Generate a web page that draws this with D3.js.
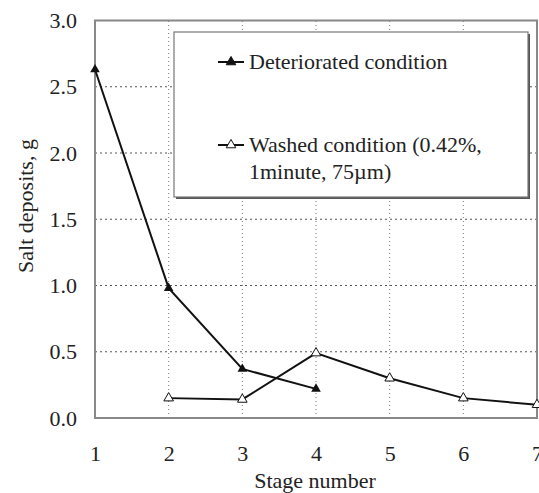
<!DOCTYPE html>
<html><head><meta charset="utf-8">
<script src="https://cdn.jsdelivr.net/npm/d3@7"></script>
<style>body{margin:0;background:#fff}svg{display:block}</style>
</head><body>
<script>
const stages = [1,2,3,4,5,6,7];
const yTicks = [0,0.5,1.0,1.5,2.0,2.5,3.0];
const detStages = [1,2,3,4];
const detValues = [2.63,0.98,0.37,0.22];
const washStages = [2,3,4,5,6,7];
const washValues = [0.15,0.14,0.49,0.30,0.15,0.10];
const seriesNames = ["Deteriorated condition","Washed condition (0.42%,","1minute, 75\u00b5m)"];

const FONT='"Liberation Serif"';
const FS="22px";
const W=539,H=493;
const svg=d3.select("body").append("svg").attr("width",W).attr("height",H);
const x=d3.scaleLinear().domain([1,7]).range([95,537]);
const y=d3.scaleLinear().domain([0,3]).range([418,20.5]);

// grid
svg.append("g").selectAll("line").data(yTicks.filter(d=>d>0&&d<3)).join("line")
 .attr("x1",x(1)).attr("x2",x(7)).attr("y1",d=>y(d)).attr("y2",d=>y(d))
 .attr("stroke","#555").attr("stroke-width",1).attr("stroke-dasharray","2,3");
svg.append("g").selectAll("line").data(stages.filter(d=>d>1&&d<7)).join("line")
 .attr("x1",d=>x(d)).attr("x2",d=>x(d)).attr("y1",y(0)).attr("y2",y(3))
 .attr("stroke","#777").attr("stroke-width",1).attr("stroke-dasharray","1,3");

// axes
const xa=d3.axisBottom(x).tickValues(stages).tickFormat(d3.format("d")).tickSize(0).tickPadding(27);
const ya=d3.axisLeft(y).tickValues(yTicks).tickFormat(d3.format(".1f")).tickSize(0).tickPadding(18);
const gx=svg.append("g").attr("transform",`translate(0,${y(0)})`).call(xa);
const gy=svg.append("g").attr("transform",`translate(${x(1)},0)`).call(ya);
[gx,gy].forEach(g=>{g.select(".domain").remove();
  g.selectAll("text").style("font-family",FONT).style("font-size",FS).attr("fill","#222");});

// plot border
svg.append("rect").attr("x",x(1)).attr("y",y(3)).attr("width",x(7)-x(1)).attr("height",y(0)-y(3))
 .attr("fill","none").attr("stroke","#888").attr("stroke-width",2);

// legend box with slight shadow
svg.append("rect").attr("x",176).attr("y",34).attr("width",354).attr("height",165)
 .attr("fill","#555");
svg.append("rect").attr("x",174).attr("y",32).attr("width",354).attr("height",165)
 .attr("fill","#fff").attr("stroke","#777").attr("stroke-width",1.2);

// lines
const line=d3.line().x(d=>x(d[0])).y(d=>y(d[1]));
const det=detStages.map((s,i)=>[s,detValues[i]]);
const wash=washStages.map((s,i)=>[s,washValues[i]]);
svg.append("path").datum(det).attr("d",line).attr("fill","none").attr("stroke","#111").attr("stroke-width",2);
svg.append("path").datum(wash).attr("d",line).attr("fill","none").attr("stroke","#111").attr("stroke-width",2);
const tri=d3.symbol().type(d3.symbolTriangle).size(40);
svg.append("g").selectAll("path").data(det).join("path").attr("d",tri)
 .attr("transform",d=>`translate(${x(d[0])},${y(d[1])})`).attr("fill","#111");
svg.append("g").selectAll("path").data(wash).join("path").attr("d",tri)
 .attr("transform",d=>`translate(${x(d[0])},${y(d[1])})`).attr("fill","#fff").attr("stroke","#111").attr("stroke-width",1);

// legend entries
const lg=svg.append("g");
[[62,true],[145,false]].forEach(([ly,filled])=>{
  lg.append("line").attr("x1",218).attr("x2",244).attr("y1",ly).attr("y2",ly).attr("stroke","#111").attr("stroke-width",2);
  lg.append("path").attr("d",tri).attr("transform",`translate(231,${ly})`).attr("fill",filled?"#111":"#fff").attr("stroke","#111").attr("stroke-width",1);
});
const txt=(sel)=>sel.style("font-family",FONT).style("font-size",FS).attr("fill","#222");
lg.append("text").attr("x",249).attr("y",69).call(txt).text(seriesNames[0]);
lg.append("text").attr("x",249).attr("y",152).call(txt).text(seriesNames[1]);
lg.append("text").attr("x",249).attr("y",179).call(txt).text(seriesNames[2]);

// titles
svg.append("text").attr("x",315).attr("y",488).attr("text-anchor","middle").call(txt).text("Stage number");
svg.append("text").attr("transform","translate(33,206) rotate(-90)").attr("text-anchor","middle").call(txt).text("Salt deposits, g");
</script>
</body></html>
